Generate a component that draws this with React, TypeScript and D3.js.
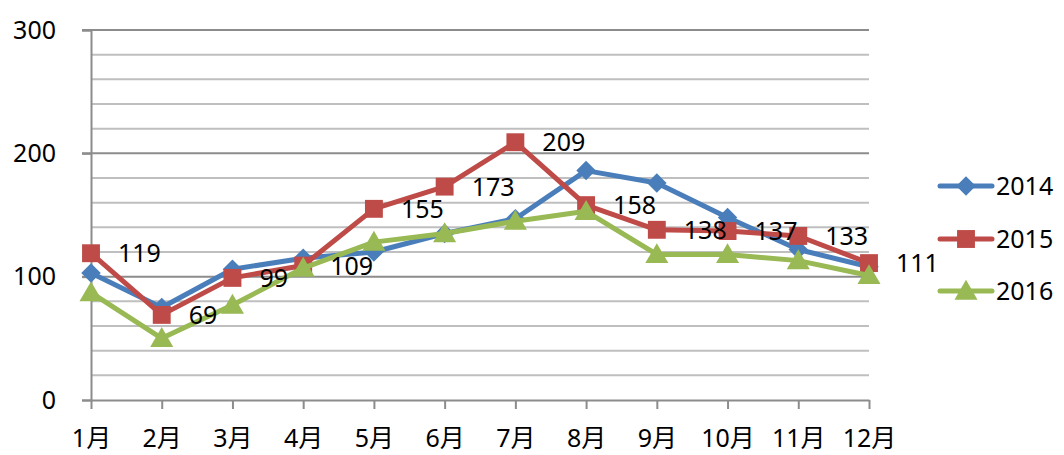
import { useEffect, useRef } from 'react';
import * as d3 from 'd3';

const months = ['1月', '2月', '3月', '4月', '5月', '6月', '7月', '8月', '9月', '10月', '11月', '12月'];
const years = ['2014', '2015', '2016'];
const values2014 = [103, 75, 106, 115, 120, 135, 147, 186, 176, 148, 122, 108];
const values2015 = [119, 69, 99, 109, 155, 173, 209, 158, 138, 137, 133, 111];
const values2016 = [87, 50, 77, 107, 128, 135, 145, 153, 118, 118, 113, 101];
const yTicks = [0, 100, 200, 300];
const minorTicks = d3.range(20, 300, 20);

const colors = ['#4a7ebb', '#be4b48', '#98b954'];
const FONT = '"Noto Sans", "Noto Sans CJK TC", sans-serif';

export default function App() {
  const svgRef = useRef<SVGSVGElement>(null);

  useEffect(() => {
    if (!svgRef.current) return;
    const svg = d3.select(svgRef.current);
    svg.selectAll('*').remove();

    const left = 91, right = 869, top = 30, bottom = 400;

    const x = d3.scalePoint<string>().domain(months).range([left, right]);
    const y = d3.scaleLinear().domain([0, 300]).range([bottom, top]);

    // minor grid
    svg.append('g')
      .selectAll('line')
      .data(minorTicks.filter(t => t % 100 !== 0))
      .join('line')
      .attr('x1', left).attr('x2', right)
      .attr('y1', d => y(d)).attr('y2', d => y(d))
      .attr('stroke', '#bfbfbf').attr('stroke-width', 2);

    // major grid
    svg.append('g')
      .selectAll('line')
      .data(yTicks.filter(t => t > 0))
      .join('line')
      .attr('x1', left - 9).attr('x2', right)
      .attr('y1', d => y(d)).attr('y2', d => y(d))
      .attr('stroke', '#8c8c8c').attr('stroke-width', 2);

    // y axis
    const yAxis = svg.append('g').attr('transform', `translate(${left},0)`)
      .call(d3.axisLeft(y).tickValues(yTicks).tickSize(9).tickPadding(26));
    yAxis.select('.domain').attr('stroke', '#8c8c8c').attr('stroke-width', 2);
    yAxis.selectAll('.tick line').attr('stroke', '#8c8c8c').attr('stroke-width', 2);
    yAxis.selectAll('.tick text').style('font-family', FONT).style('font-size', '25px').attr('fill', '#000');

    // x axis
    const xAxis = svg.append('g').attr('transform', `translate(0,${bottom})`)
      .call(d3.axisBottom(x).tickSize(9).tickPadding(20).tickSizeOuter(0));
    xAxis.select('.domain').attr('stroke', '#8c8c8c').attr('stroke-width', 2);
    xAxis.selectAll('.tick line').attr('stroke', '#8c8c8c').attr('stroke-width', 2);
    xAxis.selectAll('.tick text').style('font-family', FONT).style('font-size', '25px').attr('fill', '#000');

    const series = [values2014, values2015, values2016];
    const line = d3.line<number>().x((_, i) => x(months[i]) as number).y(d => y(d));

    const symbols = [
      d3.symbol().type(d3.symbolSquare).size(190),
      d3.symbol().type(d3.symbolSquare).size(320),
      d3.symbol().type(d3.symbolTriangle).size(230),
    ];
    const rot = [45, 0, 0];
    const dy = [0, 0, 2];

    series.forEach((vals, si) => {
      svg.append('path')
        .datum(vals)
        .attr('fill', 'none')
        .attr('stroke', colors[si])
        .attr('stroke-width', 5)
        .attr('stroke-linejoin', 'round')
        .attr('d', line);
      svg.append('g')
        .selectAll('path')
        .data(vals)
        .join('path')
        .attr('transform', (d, i) => `translate(${x(months[i])},${y(d) + dy[si]}) rotate(${rot[si]})`)
        .attr('d', symbols[si]())
        .attr('fill', colors[si]);
    });

    // data labels for 2015
    svg.append('g')
      .selectAll('text')
      .data(values2015)
      .join('text')
      .attr('x', (_, i) => (x(months[i]) as number) + 27)
      .attr('y', d => y(d))
      .attr('dy', '0.36em')
      .text(d => d)
      .style('font-family', FONT)
      .style('font-size', '25px')
      .attr('fill', '#000');

    // legend
    const legend = svg.append('g');
    const legendY = [186, 239, 291];
    years.forEach((yr, i) => {
      legend.append('line')
        .attr('x1', 940).attr('x2', 992)
        .attr('y1', legendY[i]).attr('y2', legendY[i])
        .attr('stroke', colors[i]).attr('stroke-width', 5)
        .attr('stroke-linecap', 'round');
      legend.append('path')
        .attr('transform', `translate(966,${legendY[i] + dy[i]}) rotate(${rot[i]})`)
        .attr('d', symbols[i]())
        .attr('fill', colors[i]);
      legend.append('text')
        .attr('x', 996).attr('y', legendY[i])
        .attr('dy', '0.36em')
        .text(yr)
        .style('font-family', FONT)
        .style('font-size', '25px')
        .attr('fill', '#000');
    });
  }, []);

  return (
    <div style={{ position: 'absolute', left: 0, top: 0, width: 1064, height: 455, background: '#fff' }}>
      <svg ref={svgRef} width={1064} height={455} style={{ display: 'block' }} />
    </div>
  );
}
